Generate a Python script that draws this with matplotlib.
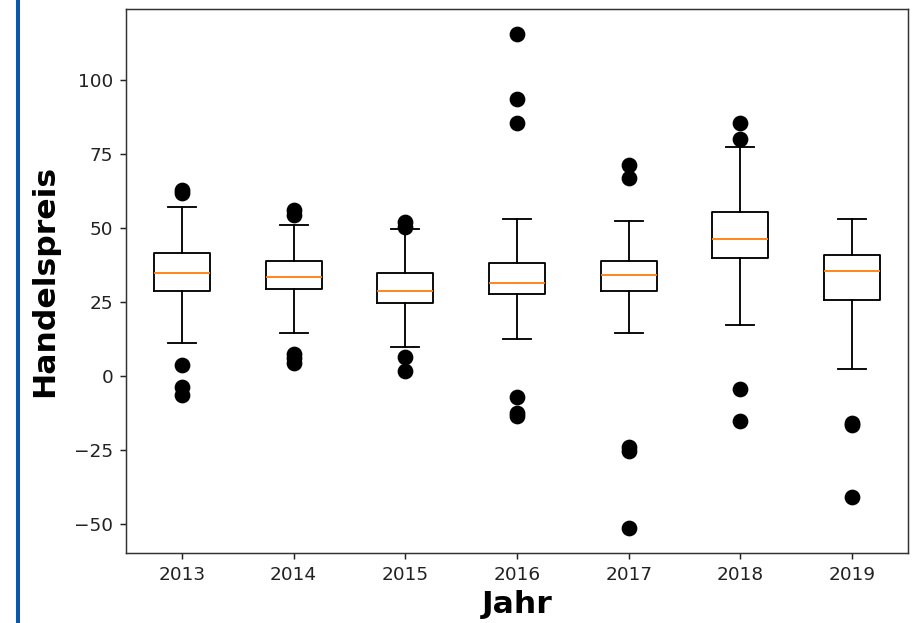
import matplotlib
matplotlib.use("Agg")
import matplotlib.pyplot as plt
from matplotlib.lines import Line2D

# values
years = ["2013", "2014", "2015", "2016", "2017", "2018", "2019"]
q1 = [28.8, 29.6, 24.9, 28.0, 28.9, 39.9, 25.7]
median = [34.9, 33.6, 28.8, 31.6, 34.2, 46.5, 35.7]
q3 = [41.7, 39.1, 35.0, 38.3, 39.1, 55.4, 41.1]
whisker_low = [11.4, 14.7, 10.0, 12.6, 14.7, 17.4, 2.6]
whisker_high = [57.2, 51.1, 49.9, 53.1, 52.6, 77.6, 53.1]
outliers = [
    [62.0, 63.0, 3.8, -3.5, -6.3],
    [56.4, 54.7, 7.5, 6.1, 4.4],
    [52.2, 50.6, 6.6, 1.8],
    [115.8, 93.7, 85.5, -6.9, -12.3, -13.2],
    [71.6, 67.2, -23.8, -25.1, -51.3],
    [85.7, 80.2, -4.2, -15.1],
    [-15.6, -16.5, -40.7],
]

stats = []
for i, label in enumerate(years):
    stats.append({
        "label": label,
        "q1": q1[i],
        "med": median[i],
        "q3": q3[i],
        "whislo": whisker_low[i],
        "whishi": whisker_high[i],
        "fliers": outliers[i],
    })

dpi = 133.33
fig = plt.figure(figsize=(917 / dpi, 623 / dpi), dpi=dpi)
ax = fig.add_axes([126 / 917, 1 - 553 / 623, (908 - 126) / 917, (553 - 9) / 623])

ax.bxp(
    stats,
    flierprops=dict(marker="o", markerfacecolor="black",
                    markeredgecolor="black", markersize=7.5),
)

ax.set_xlabel("Jahr", fontsize=17, fontweight="bold", labelpad=3)
ax.set_ylabel("Handelspreis", fontsize=17, fontweight="bold", labelpad=8)
ax.set_yticks([-50, -25, 0, 25, 50, 75, 100])
ax.tick_params(colors="#222222")
for spine in ax.spines.values():
    spine.set_color("#333333")

# blue bar at the left edge of the page
fig.add_artist(Line2D([17.5 / 917, 17.5 / 917], [0, 1], color="#0b57a8",
                      linewidth=2.2, transform=fig.transFigure))

fig.savefig("out.png", dpi=dpi)
